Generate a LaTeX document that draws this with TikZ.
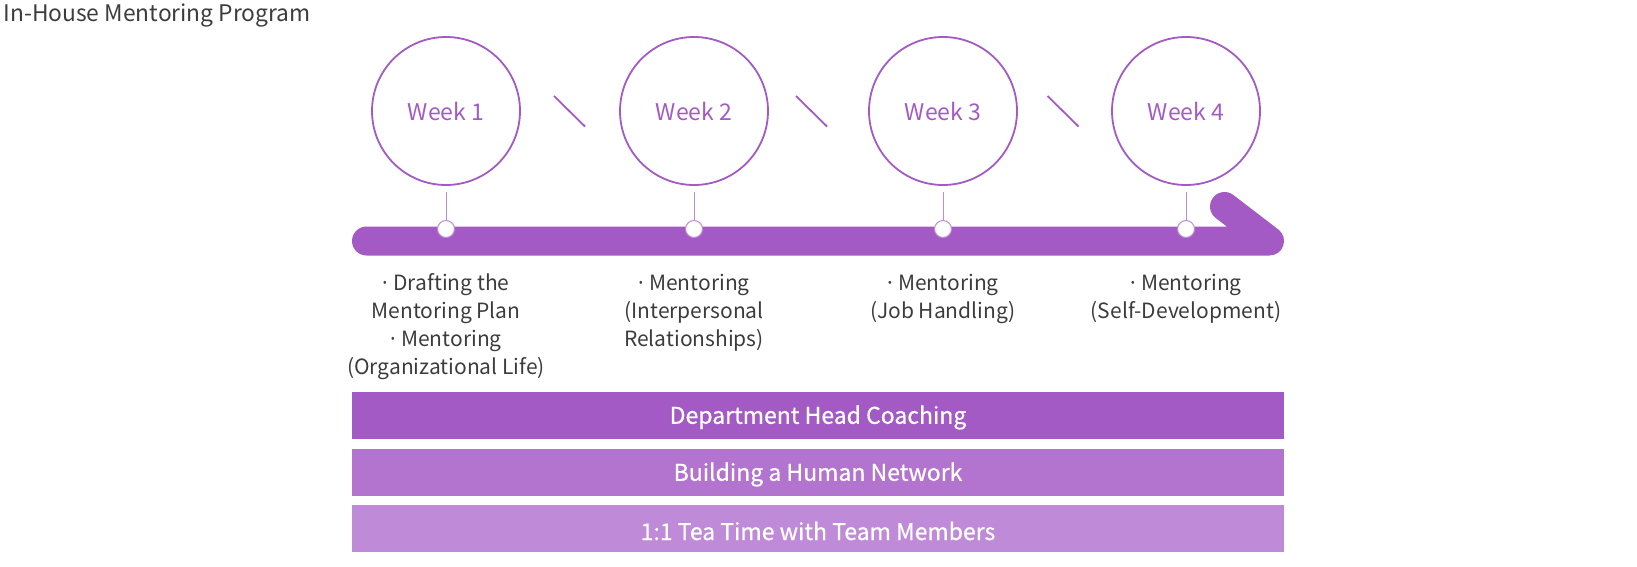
\documentclass[tikz,border=0pt]{standalone}
\usepackage{fontspec}
\setmainfont{Noto Sans CJK KR}
\newfontfamily\bandfont[FakeBold=0.6]{Noto Sans CJK KR}
\usetikzlibrary{calc}
\definecolor{purp}{HTML}{A35AC5}
\definecolor{purpmid}{HTML}{B274CF}
\definecolor{purplt}{HTML}{BF8AD7}
\definecolor{txtgray}{HTML}{3C3C3C}
\newcommand\dotmark{\makebox[0.3em][c]{·}\ }

\begin{document}
\begin{tikzpicture}[x=1pt,y=-1pt,
  week/.style={circle,draw=purp,line width=1.8pt,minimum size=148pt,inner sep=0pt,text=purp,font=\fontsize{23}{23}\selectfont},
  dot/.style={circle,fill=white,draw=purplt,line width=1pt,minimum size=17pt,inner sep=0pt},
  note/.style={align=center,text=txtgray,font=\fontsize{21}{28}\selectfont},
  band/.style={minimum width=932pt,minimum height=47pt,inner sep=0pt},
  bandtxt/.style={text=white,inner sep=0pt,font=\bandfont\fontsize{23}{23}\selectfont}]
  \useasboundingbox (0,0) rectangle (1637,567);
  \node[anchor=west,text=txtgray,font=\fontsize{22.8}{22.8}\selectfont] (title) at (0,16) {In-House Mentoring Program};
  % timeline arrow
  \coordinate (s) at (366.5,241); \coordinate (e) at (1269.5,241); \coordinate (h) at (1224.5,206.5);
  \draw[purp,line width=29pt,line cap=round,line join=round] (s)--(e)--(h);
  % weeks
  \foreach \n/\x in {1/446,2/694,3/943,4/1186}{
    \node[week] (w\n) at (\x,111) {Week \n};
    \node[dot] (d\n) at (\x,229) {};
    \draw[purplt,line width=1pt] (w\n.south)++(0,6)--(d\n.north);
  }
  \foreach \x in {570,812,1063.5}\draw[purp,line width=1.8pt] (\x-16,96)--(\x+15,126.5);
  % notes
  \node[note] (n1) at (446,327) {\dotmark Drafting the\\Mentoring Plan\\\dotmark Mentoring\\(Organizational Life)};
  \node[note] (n2) at (694,313) {\dotmark Mentoring\\(Interpersonal\\Relationships)};
  \node[note] (n3) at (943,299) {\dotmark Mentoring\\(Job Handling)};
  \node[note] (n4) at (1186,299) {\dotmark Mentoring\\(Self-Development)};
  % bands
  \foreach \n/\y/\c/\t in {1/415/purp/Department Head Coaching,2/472/purpmid/Building a Human Network,3/528.5/purplt/1:1 Tea Time with Team Members}{
    \node[band,fill=\c] (b\n) at (818,\y) {};
    \node[bandtxt] (t\n) at ([yshift=-2.5pt]b\n.center) {\t};
  }
\end{tikzpicture}
\end{document}
